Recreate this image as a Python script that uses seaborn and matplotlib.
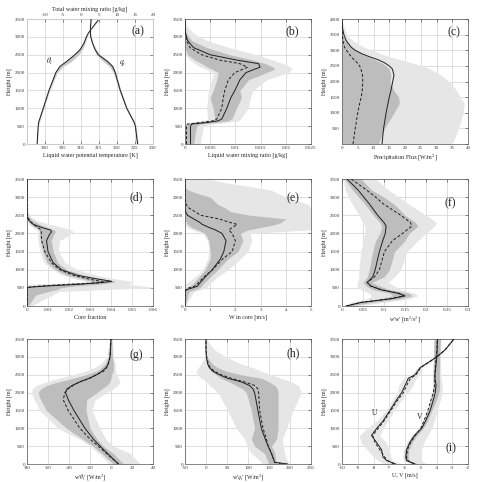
import matplotlib
matplotlib.use('Agg')
import matplotlib.pyplot as plt
from matplotlib.ticker import FuncFormatter
import seaborn as sns
import pandas as pd

# ------------------------------------------------------------------
# data (heights in m)
# ------------------------------------------------------------------

# (a) theta_l [K] (bottom axis) and q_t [g/kg] (top axis)
a_z = [0, 500, 600, 1000, 1500, 2000, 2170, 2310, 2500, 2650, 2820, 3000, 3100, 3240, 3500]
a_theta = [297.8, 298.1, 298.2, 299.5, 301.1, 303.0, 304.1, 306.0, 308.3, 309.8, 310.8, 311.5, 312.0, 313.0, 315.0]
a_theta_lo = [297.6, 297.9, 298.0, 299.3, 300.9, 302.8, 303.8, 305.5, 307.8, 309.4, 310.6, 311.3, 311.9, 312.9, 314.9]
a_theta_hi = [297.9, 298.2, 298.4, 299.7, 301.3, 303.4, 305.0, 307.3, 309.3, 310.4, 311.1, 311.7, 312.1, 313.1, 315.1]
a_q = [15.7, 15.1, 14.8, 12.7, 10.9, 9.5, 8.8, 7.4, 4.8, 3.9, 3.2, 2.7, 2.6, 2.6, 2.8]
a_q_lo = [15.5, 14.9, 14.5, 12.5, 10.6, 9.0, 7.9, 6.2, 4.3, 3.6, 3.0, 2.5, 2.5, 2.5, 2.7]
a_q_hi = [15.9, 15.3, 15.0, 12.9, 11.1, 9.7, 9.0, 7.8, 5.3, 4.2, 3.4, 2.9, 2.7, 2.7, 2.9]

# (b) liquid water mixing ratio [g/kg]
b_z = [0, 500, 560, 600, 650, 700, 1000, 1300, 1500, 1800, 2000, 2100, 2150, 2250, 2350, 2500, 2700, 2900, 3100, 3300, 3500]
b_solid = [0.0011, 0.0011, 0.0013, 0.0043, 0.0066, 0.0073, 0.0083, 0.0091, 0.0099, 0.0109, 0.0121, 0.0139, 0.0149, 0.0146, 0.0103, 0.0050, 0.0017, 0.0005, 0.0001, 0.0, 0.0]
b_dashed = [0.0003, 0.0003, 0.0005, 0.0030, 0.0056, 0.0063, 0.0073, 0.0076, 0.0079, 0.0086, 0.0099, 0.0116, 0.0124, 0.0109, 0.0069, 0.0033, 0.0010, 0.0003, 0.0001, 0.0, 0.0]
b_dark_lo = [0.0, 0.0, 0.0, 0.0020, 0.0050, 0.0059, 0.0056, 0.0050, 0.0056, 0.0063, 0.0066, 0.0053, 0.0045, 0.0033, 0.0020, 0.0005, 0.0, 0.0, 0.0, 0.0, 0.0]
b_dark_hi = [0.0017, 0.0023, 0.0030, 0.0060, 0.0085, 0.0093, 0.0102, 0.0112, 0.0109, 0.0126, 0.0162, 0.0178, 0.0175, 0.0160, 0.0136, 0.0089, 0.0043, 0.0013, 0.0003, 0.0, 0.0]
b_light_lo = [0.0, 0.0, 0.0, 0.0010, 0.0030, 0.0045, 0.0043, 0.0045, 0.0047, 0.0053, 0.0057, 0.0040, 0.0032, 0.0020, 0.0010, 0.0, 0.0, 0.0, 0.0, 0.0, 0.0]
b_light_hi = [0.0030, 0.0037, 0.0050, 0.0080, 0.0105, 0.0110, 0.0125, 0.0130, 0.0135, 0.0162, 0.0205, 0.0212, 0.0210, 0.0195, 0.0175, 0.0142, 0.0088, 0.0043, 0.0017, 0.0004, 0.0]

# (c) precipitation flux [W/m2]
c_z = [0, 500, 1000, 1300, 1500, 1700, 2000, 2200, 2400, 2500, 2600, 2700, 2800, 2900, 3000, 3100, 3300, 3500, 3700, 3900, 4000]
c_solid = [12.7, 13.2, 14.0, 14.6, 15.0, 15.5, 16.1, 16.5, 16.0, 15.0, 13.5, 11.4, 8.5, 6.1, 4.2, 2.9, 1.4, 0.6, 0.2, 0.0, 0.0]
c_dashed = [3.5, 4.2, 5.0, 5.6, 6.1, 6.4, 6.6, 6.5, 6.0, 5.6, 4.8, 3.8, 2.9, 2.1, 1.4, 0.8, 0.3, 0.1, 0.0, 0.0, 0.0]
c_dark_lo = [0, 0, 0, 0, 0, 0, 0, 0, 0, 0, 0, 0, 0, 0, 0, 0, 0, 0, 0, 0, 0]
c_dark_hi = [11.5, 13.5, 16.5, 18.2, 18.0, 16.5, 15.2, 15.5, 15.0, 14.0, 12.5, 10.5, 8.0, 6.0, 4.3, 3.0, 1.2, 0.3, 0.0, 0.0, 0.0]
c_light_lo = [0, 0, 0, 0, 0, 0, 0, 0, 0, 0, 0, 0, 0, 0, 0, 0, 0, 0, 0, 0, 0]
c_light_hi = [35.0, 37.0, 38.5, 38.8, 37.5, 36.5, 34.0, 31.5, 28.0, 25.5, 22.0, 18.5, 15.0, 12.0, 9.5, 7.0, 3.5, 1.5, 0.8, 0.2, 0.0]

# (d) core fraction
d_z = [0, 300, 400, 450, 500, 520, 550, 600, 650, 680, 750, 850, 1000, 1200, 1500, 1800, 1950, 2050, 2100, 2150, 2250, 2350, 2450, 2600, 3500]
d_solid = [0, 0, 0, 0, 0, 0.0013, 0.009, 0.025, 0.036, 0.0404, 0.033, 0.0237, 0.0164, 0.0124, 0.010, 0.0093, 0.0105, 0.0117, 0.011, 0.0077, 0.003, 0.001, 0, 0, 0]
d_dashed = [0, 0, 0, 0, 0, 0.001, 0.006, 0.020, 0.037, 0.035, 0.029, 0.022, 0.0156, 0.0115, 0.0085, 0.007, 0.0068, 0.0068, 0.0066, 0.0055, 0.003, 0.0013, 0.0003, 0, 0]
d_dark_lo = [0, 0, 0, 0, 0, 0, 0.002, 0.012, 0.030, 0.031, 0.026, 0.019, 0.0135, 0.0095, 0.0075, 0.0063, 0.006, 0.006, 0.0058, 0.0045, 0.002, 0.0005, 0, 0, 0]
d_dark_hi = [0.0005, 0.004, 0.010, 0.014, 0.016, 0.018, 0.022, 0.034, 0.041, 0.042, 0.036, 0.027, 0.019, 0.0145, 0.0125, 0.0115, 0.0125, 0.0135, 0.013, 0.0105, 0.006, 0.003, 0.001, 0, 0]
d_light_lo = [0, 0, 0, 0, 0, 0, 0, 0, 0.026, 0.028, 0.023, 0.017, 0.012, 0.008, 0.0062, 0.0052, 0.005, 0.005, 0.0045, 0.003, 0.001, 0, 0, 0, 0]
d_light_hi = [0.002, 0.012, 0.015, 0.035, 0.060, 0.060, 0.055, 0.048, 0.050, 0.050, 0.042, 0.033, 0.024, 0.018, 0.015, 0.0155, 0.020, 0.022, 0.021, 0.018, 0.011, 0.005, 0.002, 0.0005, 0]

# (e) W in core [m/s]
e_z = [0, 400, 450, 500, 550, 600, 800, 1000, 1300, 1500, 1800, 2000, 2100, 2150, 2250, 2300, 2400, 2500, 2600, 2700, 2800, 3000, 3100, 3200, 3300, 3400, 3500]
e_solid = [0, 0, 0.05, 0.30, 0.50, 0.55, 0.80, 1.08, 1.41, 1.54, 1.63, 1.47, 1.20, 1.01, 0.68, 0.60, 0.35, 0.10, 0.02, 0, 0, 0, 0, 0, 0, 0, 0]
e_dashed = [0, 0, 0.05, 0.15, 0.40, 0.48, 0.75, 1.10, 1.50, 1.87, 2.00, 1.87, 1.74, 1.85, 2.07, 1.80, 1.35, 0.62, 0.40, 0.16, 0.04, 0, 0, 0, 0, 0, 0]
e_dark_lo = [0, 0, 0, 0.05, 0.20, 0.30, 0.55, 0.80, 1.00, 1.00, 0.95, 0.80, 0.50, 0.30, 0.10, 0.05, 0, 0, 0, 0, 0, 0, 0, 0, 0, 0, 0]
e_dark_hi = [0, 0.15, 0.40, 0.60, 0.65, 0.70, 1.00, 1.30, 1.70, 2.10, 2.30, 2.20, 2.50, 2.90, 3.60, 3.80, 4.00, 2.60, 1.80, 1.60, 1.30, 1.00, 0.50, 0.10, 0, 0, 0]
e_light_lo = [0, 0, 0, 0, 0, 0, 0.40, 0.70, 0.90, 0.95, 0.90, 0.70, 0.30, 0.10, 0, 0, 0, 0, 0, 0, 0, 0, 0, 0, 0, 0, 0]
e_light_hi = [0, 0.35, 0.60, 0.85, 0.90, 0.95, 1.30, 1.70, 2.20, 2.50, 2.65, 2.60, 5.0, 5.0, 5.0, 5.0, 5.0, 5.0, 5.0, 5.0, 4.90, 4.00, 3.70, 3.40, 2.50, 1.60, 0.90]

# (f) w'w' [m2/s2]
f_z = [0, 100, 200, 280, 350, 450, 550, 650, 800, 1000, 1500, 1800, 2000, 2200, 2300, 2500, 2800, 3000, 3200, 3500]
f_solid = [0.010, 0.046, 0.117, 0.150, 0.133, 0.093, 0.069, 0.060, 0.073, 0.079, 0.089, 0.097, 0.103, 0.105, 0.100, 0.085, 0.066, 0.052, 0.038, 0.012]
f_dashed = [0.010, 0.045, 0.113, 0.148, 0.137, 0.093, 0.068, 0.060, 0.077, 0.089, 0.101, 0.120, 0.144, 0.166, 0.163, 0.140, 0.100, 0.080, 0.058, 0.022]
f_dark_lo = [0.006, 0.030, 0.093, 0.120, 0.115, 0.074, 0.058, 0.050, 0.060, 0.065, 0.073, 0.080, 0.090, 0.095, 0.090, 0.075, 0.055, 0.040, 0.025, 0.006]
f_dark_hi = [0.018, 0.070, 0.137, 0.168, 0.160, 0.113, 0.090, 0.070, 0.100, 0.113, 0.125, 0.150, 0.160, 0.180, 0.175, 0.150, 0.125, 0.100, 0.070, 0.045]
f_light_lo = [0.002, 0.020, 0.060, 0.070, 0.065, 0.045, 0.035, 0.037, 0.040, 0.040, 0.045, 0.050, 0.055, 0.055, 0.050, 0.040, 0.025, 0.015, 0.008, 0.003]
f_light_hi = [0.030, 0.100, 0.160, 0.180, 0.175, 0.140, 0.125, 0.110, 0.125, 0.140, 0.155, 0.180, 0.200, 0.220, 0.225, 0.200, 0.160, 0.135, 0.110, 0.080]

# (g) w'theta_l' [W/m2]
g_z = [0, 300, 500, 700, 1000, 1500, 1800, 2000, 2100, 2200, 2300, 2400, 2500, 2600, 2700, 2800, 3000, 3500]
g_solid = [7.1, -3.5, -10.4, -16.8, -24.8, -35.3, -40.7, -43.3, -42.0, -37.0, -29.6, -21.0, -13.6, -8.5, -4.7, -2.8, -0.9, 0.0]
g_dashed = [7.1, -4.5, -12.0, -20.0, -29.6, -40.8, -45.5, -44.0, -41.0, -36.0, -30.0, -20.0, -14.0, -7.0, -4.0, -2.5, -0.9, 0.0]
g_dark_lo = [2.4, -9.0, -16.9, -27.0, -42.4, -61.5, -67.0, -69.5, -67.0, -61.5, -50.0, -36.0, -24.0, -13.6, -9.0, -5.6, -2.4, -0.9]
g_dark_hi = [12.0, 2.0, -7.3, -13.6, -20.0, -23.8, -23.2, -13.6, -9.0, -4.0, -1.0, 0.0, 0.7, 2.0, 2.3, 2.3, 1.3, 0.7]
g_light_lo = [-1.0, -12.0, -20.0, -30.0, -50.4, -67.8, -73.0, -75.8, -75.0, -71.0, -62.0, -50.0, -37.0, -24.3, -16.0, -10.0, -4.0, -1.5]
g_light_hi = [28.0, 18.0, 2.4, -5.0, -10.4, -18.4, -15.0, -4.0, 2.0, 6.0, 8.7, 7.0, 5.6, 4.5, 4.0, 4.0, 2.4, 1.0]

# (h) w'q_t' [W/m2]
h_z = [0, 50, 100, 300, 500, 700, 1000, 1500, 2000, 2100, 2200, 2300, 2400, 2500, 2600, 2700, 2800, 3000, 3200, 3500]
h_solid = [195, 163, 162, 155.6, 148, 141, 131.7, 123.7, 115.7, 112, 103.7, 84, 52, 32, 16, 8, 4, 0.8, 0, 0]
h_dashed = [180, 163, 162, 156, 148, 144, 135.7, 127.7, 125.3, 123.7, 115.7, 92, 60, 36, 20, 10, 5.6, 1.6, 0, 0]
h_dark_lo = [148, 148, 146, 139, 115.7, 108, 115.7, 108, 96, 88, 72, 56, 36, 24, 12, 6, 2.4, 0, 0, 0]
h_dark_hi = [168, 168, 166, 164, 156, 168, 171.6, 171.6, 171.6, 170, 164, 150, 132, 84, 48, 28, 15, 2.4, 0, 0]
h_light_lo = [131, 131, 128, 108, 98, 92, 72, 52, 28, 20, 8, 4, -12, -20, -24, -18, -12, -2.4, 0, 0]
h_light_hi = [196, 195, 193, 187, 184, 182, 192, 207, 227, 224, 219, 205, 179, 155, 131, 112, 84, 48, 20, 0.8]

# (i) U, V [m/s]
i_z = [0, 100, 200, 400, 600, 800, 1000, 1200, 1500, 1800, 2000, 2200, 2400, 2500, 2700, 3000, 3200, 3500]
i_u = [-6.6, -7.17, -7.4, -7.49, -7.8, -8.13, -7.8, -7.4, -6.96, -6.53, -6.21, -6.0, -5.79, -5.36, -5.04, -3.98, -3.45, -2.9]
i_u_dashed = [-6.7, -7.1, -7.3, -7.6, -7.9, -8.05, -7.7, -7.35, -6.9, -6.45, -6.1, -5.9, -5.65, -5.3, -5.0, -3.98, -3.45, -2.9]
i_u_lo = [-7.3, -7.7, -8.0, -8.4, -8.8, -8.9, -8.4, -7.8, -7.2, -6.8, -6.5, -6.4, -6.1, -5.6, -5.2, -4.05, -3.5, -2.95]
i_u_hi = [-6.2, -6.8, -6.9, -7.0, -7.2, -7.6, -7.4, -7.1, -6.7, -6.2, -5.8, -5.5, -5.3, -5.1, -4.9, -3.9, -3.4, -2.85]
i_v = [-5.36, -5.9, -5.95, -5.9, -5.7, -5.4, -4.94, -4.7, -4.4, -4.2, -4.08, -4.03, -4.1, -4.1, -4.05, -3.98, -3.96, -3.94]
i_v_dashed = [-5.4, -5.85, -5.9, -5.85, -5.65, -5.35, -5.0, -4.8, -4.55, -4.35, -4.2, -4.12, -4.1, -4.1, -4.08, -4.02, -3.98, -3.95]
i_v_dark_lo = [-5.5, -6.0, -6.05, -6.0, -5.8, -5.5, -5.05, -4.8, -4.55, -4.35, -4.25, -4.2, -4.22, -4.22, -4.2, -4.18, -4.17, -4.15]
i_v_dark_hi = [-5.2, -5.75, -5.8, -5.75, -5.55, -5.25, -4.85, -4.6, -4.3, -4.0, -3.85, -3.8, -3.82, -3.82, -3.82, -3.8, -3.78, -3.75]
i_v_light_lo = [-5.6, -6.1, -6.15, -6.1, -5.9, -5.6, -5.15, -4.9, -4.6, -4.4, -4.3, -4.25, -4.25, -4.25, -4.22, -4.2, -4.19, -4.17]
i_v_light_hi = [-4.6, -5.0, -5.0, -4.95, -4.8, -4.55, -4.3, -4.15, -3.95, -3.75, -3.65, -3.65, -3.7, -3.72, -3.74, -3.75, -3.74, -3.72]

# ------------------------------------------------------------------
# style
# ------------------------------------------------------------------
sns.set_style('whitegrid')
plt.rcParams['font.family'] = ['Liberation Serif', 'DejaVu Serif']
plt.rcParams['mathtext.fontset'] = 'stix'

LIGHT = '#e6e6e6'
DARK = '#bdbdbd'
LINE = '#1e1e1e'
GRID = '#d2d2d2'
TICK_FS = 3.6
LABEL_FS = 4.3
PANEL_FS = 8.5


def fmt(v, pos):
	return '%g' % v


def style_axes(ax, xlim, xticks, ylim=(0, 3500), yticks=range(0, 3501, 500), xlabel='', hide_y0=False):
	ax.set_xlim(*xlim)
	ax.set_ylim(*ylim)
	ax.set_xticks(list(xticks))
	ax.set_yticks(list(yticks))
	ax.xaxis.set_major_formatter(FuncFormatter(fmt))
	if hide_y0:
		ax.yaxis.set_major_formatter(FuncFormatter(lambda v, p: '' if v == 0 else '%g' % v))
	else:
		ax.yaxis.set_major_formatter(FuncFormatter(fmt))
	ax.grid(True, color=GRID, lw=0.5)
	ax.set_axisbelow(True)
	ax.tick_params(direction='in', length=2, width=0.4, pad=1.5, labelsize=TICK_FS,
				   top=True, right=True, colors='#333333')
	for sp in ax.spines.values():
		sp.set_linewidth(0.5)
		sp.set_color('#555555')
	ax.set_xlabel(xlabel, fontsize=LABEL_FS, labelpad=2)
	ax.set_ylabel('Height [m]', fontsize=LABEL_FS, labelpad=2)


def profile(ax, z, solid, dashed, dark=None, light=None):
	if light is not None:
		ax.fill_betweenx(z, light[0], light[1], color=LIGHT, lw=0, zorder=1)
	if dark is not None:
		ax.fill_betweenx(z, dark[0], dark[1], color=DARK, lw=0, zorder=2)
	df = pd.DataFrame({'z': z, 'solid': solid, 'dashed': dashed})
	sns.lineplot(data=df, x='solid', y='z', orient='y', color=LINE, lw=0.7, ax=ax, zorder=3)
	sns.lineplot(data=df, x='dashed', y='z', orient='y', color=LINE, lw=0.7, ax=ax, zorder=3,
				 linestyle=(0, (3, 2)))


def panel_label(ax, text, x, y):
	ax.text(x, y, text, transform=ax.transAxes, ha='center', va='center', fontsize=PANEL_FS)


fig = plt.figure(figsize=(4.78, 4.82), dpi=100)
lefts = [0.0565, 0.387, 0.7155]
bottoms = [0.7012, 0.3651, 0.0373]
heights = [0.2593, 0.2635, 0.2593]
W = 0.2636
axes = [[fig.add_axes([l, b, W, h]) for l in lefts] for b, h in zip(bottoms, heights)]

# (a)
ax = axes[0][0]
ax.fill_betweenx(a_z, a_theta_lo, a_theta_hi, color='#c8c8c8', lw=0, zorder=1)
df_a = pd.DataFrame({'z': a_z, 'theta': a_theta, 'q': a_q})
sns.lineplot(data=df_a, x='theta', y='z', orient='y', color=LINE, lw=0.7, ax=ax, zorder=3)
style_axes(ax, (295, 330), range(300, 331, 5), xlabel='Liquid water potential temperature [K]')
ax.set_xticks(range(295, 331, 5))
ax.text(301.3, 2300, r'$\theta_l$', fontsize=5.5, ha='center', va='center')
ax.text(321.6, 2280, r'$q_t$', fontsize=5.5, ha='center', va='center')
ax2 = ax.twiny()
ax2.fill_betweenx(a_z, a_q_lo, a_q_hi, color='#c8c8c8', lw=0, zorder=1)
sns.lineplot(data=df_a, x='q', y='z', orient='y', color=LINE, lw=0.7, ax=ax2, zorder=3)
ax2.set_xlim(-15, 20)
ax2.set_ylim(0, 3500)
ax2.set_xticks(range(-10, 21, 5))
ax2.xaxis.set_major_formatter(FuncFormatter(fmt))
ax2.grid(False)
ax2.tick_params(direction='in', length=2, width=0.4, pad=1.5, labelsize=TICK_FS, colors='#333333')
ax2.set_xlabel('Total water mixing ratio [g/kg]', fontsize=LABEL_FS, labelpad=2)
ax2.set_ylabel('')
ax.xaxis.set_major_formatter(FuncFormatter(lambda v, p: '' if v == 295 else '%g' % v))
panel_label(ax, '(a)', 0.877, 0.899)

# (b)
ax = axes[0][1]
profile(ax, b_z, b_solid, b_dashed, (b_dark_lo, b_dark_hi), (b_light_lo, b_light_hi))
style_axes(ax, (0, 0.025), [0, 0.005, 0.01, 0.015, 0.02, 0.025], xlabel='Liquid water mixing ratio [g/kg]')
panel_label(ax, '(b)', 0.855, 0.9)

# (c)
ax = axes[0][2]
profile(ax, c_z, c_solid, c_dashed, (c_dark_lo, c_dark_hi), (c_light_lo, c_light_hi))
style_axes(ax, (0, 40), range(0, 41, 5), ylim=(0, 4000), yticks=range(0, 4001, 500),
		   xlabel='Precipitation Flux [W/m$^2$]', hide_y0=True)
panel_label(ax, '(c)', 0.89, 0.89)

# (d)
ax = axes[1][0]
profile(ax, d_z, d_solid, d_dashed, (d_dark_lo, d_dark_hi), (d_light_lo, d_light_hi))
style_axes(ax, (0, 0.06), [0, 0.01, 0.02, 0.03, 0.04, 0.05, 0.06], xlabel='Core fraction')
panel_label(ax, '(d)', 0.87, 0.853)

# (e)
ax = axes[1][1]
profile(ax, e_z, e_solid, e_dashed, (e_dark_lo, e_dark_hi), (e_light_lo, e_light_hi))
style_axes(ax, (0, 5), range(0, 6), xlabel='W in core [m/s]')
panel_label(ax, '(e)', 0.86, 0.85)

# (f)
ax = axes[1][2]
profile(ax, f_z, f_solid, f_dashed, (f_dark_lo, f_dark_hi), (f_light_lo, f_light_hi))
style_axes(ax, (0, 0.3), [0, 0.05, 0.1, 0.15, 0.2, 0.25, 0.3], xlabel="w'w' [m$^2$/s$^2$]")
panel_label(ax, '(f)', 0.862, 0.81)

# (g)
ax = axes[2][0]
profile(ax, g_z, g_solid, g_dashed, (g_dark_lo, g_dark_hi), (g_light_lo, g_light_hi))
style_axes(ax, (-80, 40), range(-80, 41, 20), xlabel=r"w'$\theta_l$' [W/m$^2$]")
panel_label(ax, '(g)', 0.87, 0.87)

# (h)
ax = axes[2][1]
profile(ax, h_z, h_solid, h_dashed, (h_dark_lo, h_dark_hi), (h_light_lo, h_light_hi))
style_axes(ax, (-50, 250), range(-50, 251, 50), xlabel=r"w'$q_t$' [W/m$^2$]")
panel_label(ax, '(h)', 0.86, 0.886)

# (i)
ax = axes[2][2]
ax.fill_betweenx(i_z, i_u_lo, i_u_hi, color=LIGHT, lw=0, zorder=1)
ax.fill_betweenx(i_z, i_v_light_lo, i_v_light_hi, color=LIGHT, lw=0, zorder=1)
ax.fill_betweenx(i_z, i_v_dark_lo, i_v_dark_hi, color=DARK, lw=0, zorder=2)
df_i = pd.DataFrame({'z': i_z, 'u': i_u, 'ud': i_u_dashed, 'v': i_v, 'vd': i_v_dashed})
for col, ls in [('u', '-'), ('ud', (0, (3, 2))), ('v', '-'), ('vd', (0, (3, 2)))]:
	sns.lineplot(data=df_i, x=col, y='z', orient='y', color=LINE, lw=0.7, ax=ax, zorder=3, linestyle=ls)
style_axes(ax, (-10, -2), range(-10, -1), xlabel='U, V [m/s]')
ax.text(-7.96, 1430, 'U', fontsize=5.5, ha='center', va='center')
ax.text(-5.04, 1330, 'V', fontsize=5.5, ha='center', va='center')
panel_label(ax, '(i)', 0.865, 0.126)

fig.savefig('out.png', dpi=100)
